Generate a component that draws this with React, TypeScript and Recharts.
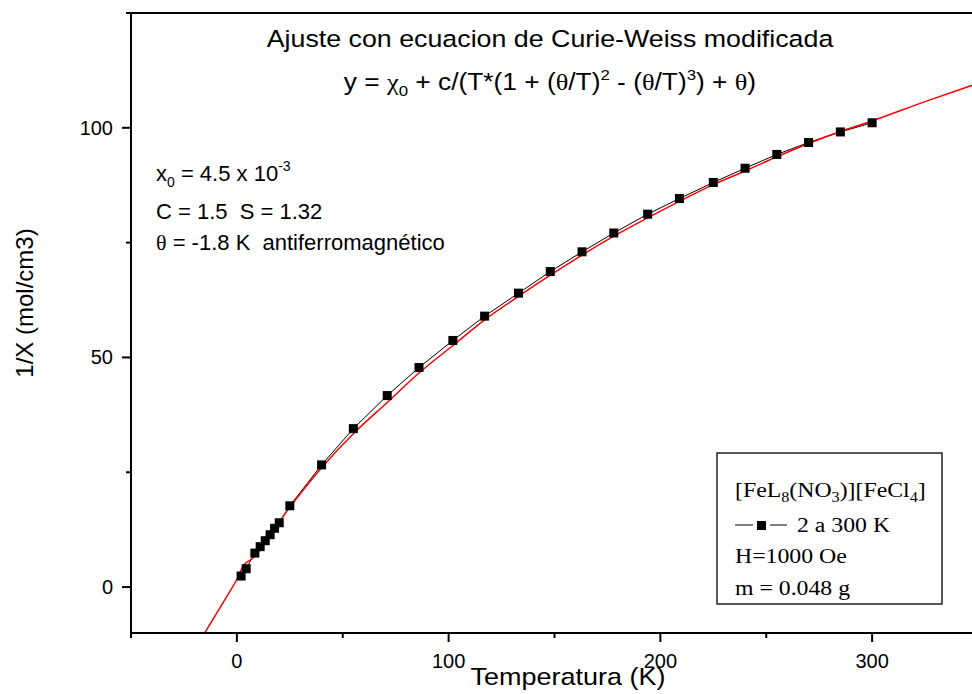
import React from 'react';
import { LineChart, Line, XAxis, YAxis } from 'recharts';

// measured 1/chi vs T (black squares)
const measT = [2, 4.4, 8.5, 11, 13.4, 15.7, 17.8, 20, 25, 40, 55, 71, 86, 102, 117, 133, 148, 163, 178, 194, 209, 225, 240, 255, 270, 285, 300];
const measInv = [2.4, 4.0, 7.4, 8.8, 10.1, 11.4, 12.8, 14.0, 17.7, 26.6, 34.5, 41.7, 47.8, 53.7, 59.0, 64.0, 68.7, 73.0, 77.1, 81.2, 84.6, 88.1, 91.2, 94.2, 96.8, 99.1, 101.1];

// modified Curie-Weiss fit (red)
const fitT = [-16, -5.5, 0, 3, 7, 25, 40, 55, 71, 86, 102, 117, 133, 148, 163, 178, 194, 209, 224, 240, 255, 270, 285, 300, 325, 350];
const fitInv = [-10.6, -2.6, 1.7, 4.6, 6.1, 17.4, 26.0, 33.4, 40.2, 46.6, 52.6, 58.2, 63.3, 67.9, 72.3, 76.4, 80.4, 84.0, 87.4, 90.6, 93.7, 96.6, 99.2, 101.5, 105.7, 109.7];

const xTicks = [-50, 0, 50, 100, 150, 200, 250, 300, 350];
const xLabels = [0, 100, 200, 300];
const yTicks = [0, 25, 50, 75, 100, 125];
const yLabels = [0, 50, 100];

const measData = measT.map((T, i) => ({ T, v: measInv[i] }));
const fitData = fitT.map((T, i) => ({ T, v: fitInv[i] }));

const SANS = "'Liberation Sans', Arial, sans-serif";
const SERIF = "'Liberation Serif', 'Times New Roman', serif";

const BottomTick = (p: any) => {
  const v = p.payload.value;
  const major = v % 100 === 0;
  return (
    <g>
      <line x1={p.x} x2={p.x} y1={p.y} y2={p.y + (major ? 9 : 5)} stroke="#000" strokeWidth={2} />
      {xLabels.includes(v) && (
        <text x={p.x} y={p.y + 35} textAnchor="middle" fontSize={20} fontFamily={SANS} fill="#000">{v}</text>
      )}
    </g>
  );
};

const TopTick = (p: any) => {
  const major = p.payload.value % 100 === 0;
  return <line x1={p.x} x2={p.x} y1={p.y} y2={p.y + (major ? 9 : 5)} stroke="#000" strokeWidth={2} />;
};

const LeftTick = (p: any) => {
  const v = p.payload.value;
  const major = v % 50 === 0;
  return (
    <g>
      <line x1={p.x} x2={p.x - (major ? 9 : 5)} y1={p.y} y2={p.y} stroke="#000" strokeWidth={2} />
      {yLabels.includes(v) && (
        <text x={p.x - 18} y={p.y + 7} textAnchor="end" fontSize={20} fontFamily={SANS} fill="#000">{v}</text>
      )}
    </g>
  );
};

const RightTick = (p: any) => {
  const major = p.payload.value % 50 === 0;
  return <line x1={p.x} x2={p.x - (major ? 9 : 5)} y1={p.y} y2={p.y} stroke="#000" strokeWidth={2} />;
};

const Square = (p: any) => (
  <rect key={p.index} x={p.cx - 4.5} y={p.cy - 4.5} width={9} height={9} fill="#000" />
);

const axisLine = { stroke: '#000', strokeWidth: 2 };

export default function App() {
  return (
    <div style={{ position: 'fixed', left: 0, top: 0, width: 972, height: 694, overflow: 'hidden', background: '#fff' }}>
      <LineChart width={1000} height={694} margin={{ top: 12, right: 21, bottom: 60, left: 130 }}>
        <XAxis xAxisId="b" type="number" dataKey="T" domain={[-50, 350]} ticks={xTicks} interval={0}
          height={1} tickSize={0} tickMargin={0} tickLine={false} axisLine={axisLine} tick={<BottomTick />} allowDataOverflow />
        <XAxis xAxisId="t" orientation="top" type="number" dataKey="T" domain={[-50, 350]} ticks={xTicks} interval={0}
          height={1} tickSize={0} tickMargin={0} tickLine={false} axisLine={axisLine} tick={<TopTick />} />
        <YAxis yAxisId="l" type="number" domain={[-10, 125]} ticks={yTicks} interval={0}
          width={1} tickSize={0} tickMargin={0} tickLine={false} axisLine={axisLine} tick={<LeftTick />} allowDataOverflow />
        <YAxis yAxisId="r" orientation="right" type="number" domain={[-10, 125]} ticks={yTicks} interval={0}
          width={1} tickSize={0} tickMargin={0} tickLine={false} axisLine={axisLine} tick={<RightTick />} />
        <Line data={measData} dataKey="v" xAxisId="b" yAxisId="l" type="linear" stroke="#000" strokeWidth={1}
          dot={Square} activeDot={false} isAnimationActive={false} />
        <Line data={fitData} dataKey="v" xAxisId="b" yAxisId="l" type="monotone" stroke="#ff0000" strokeWidth={1.5}
          dot={false} activeDot={false} isAnimationActive={false} />
      </LineChart>

      <svg width={972} height={694} style={{ position: 'absolute', left: 0, top: 0, pointerEvents: 'none' }} fontFamily={SANS} fill="#000">
        <g transform="translate(550,47) scale(1.14,1)">
          <text textAnchor="middle" fontSize={23.5}>Ajuste con ecuacion de Curie-Weiss modificada</text>
        </g>
        <g transform="translate(550,90) scale(1.12,1)">
          <text textAnchor="middle" fontSize={23.5}>
            {'y = '}<tspan fontFamily={SERIF}>χ</tspan>
            <tspan fontSize={15} dy={6}>0</tspan>
            <tspan dy={-6}>{' + c/(T*(1 + ('}</tspan>
            <tspan fontFamily={SERIF}>θ</tspan>{'/T)'}
            <tspan fontSize={15} dy={-10}>2</tspan>
            <tspan dy={10}>{' - ('}</tspan>
            <tspan fontFamily={SERIF}>θ</tspan>{'/T)'}
            <tspan fontSize={15} dy={-10}>3</tspan>
            <tspan dy={10}>{') + '}</tspan>
            <tspan fontFamily={SERIF}>θ</tspan>{')'}
          </text>
        </g>

        <text x={156} y={181} fontSize={22}>
          {'x'}<tspan fontSize={14} dy={6}>0</tspan>
          <tspan dy={-6}>{' = 4.5 x 10'}</tspan>
          <tspan fontSize={14} dy={-10}>-3</tspan>
        </text>
        <text x={156} y={219} fontSize={22} style={{ whiteSpace: 'pre' }}>{'C = 1.5  S = 1.32'}</text>
        <text x={156} y={250} fontSize={22} style={{ whiteSpace: 'pre' }}>
          <tspan fontFamily={SERIF}>θ</tspan>{' = -1.8 K  antiferromagnético'}
        </text>

        <text transform="translate(33,303) rotate(-90)" textAnchor="middle" fontSize={24}>1/X (mol/cm3)</text>
        <g transform="translate(568,685) scale(1.125,1)">
          <text textAnchor="middle" fontSize={24}>Temperatura (K)</text>
        </g>

        <rect x={717} y={453} width={225} height={151} fill="#fff" stroke="#222" strokeWidth={1.5} />
        <g fontFamily={SERIF}>
          <g transform="translate(735,497) scale(1.16,1)">
            <text fontSize={20.5}>
              {'[FeL'}<tspan fontSize={14} dy={5}>8</tspan>
              <tspan dy={-5}>{'(NO'}</tspan>
              <tspan fontSize={14} dy={5}>3</tspan>
              <tspan dy={-5}>{')][FeCl'}</tspan>
              <tspan fontSize={14} dy={5}>4</tspan>
              <tspan dy={-5}>]</tspan>
            </text>
          </g>
          <line x1={735} x2={753} y1={525} y2={525} stroke="#000" strokeWidth={1} />
          <line x1={770} x2={787} y1={525} y2={525} stroke="#000" strokeWidth={1} />
          <rect x={757} y={521} width={9} height={9} fill="#000" />
          <g transform="translate(797,532) scale(1.16,1)">
            <text fontSize={20.5}>2 a 300 K</text>
          </g>
          <g transform="translate(735,563) scale(1.16,1)">
            <text fontSize={20.5}>H=1000 Oe</text>
          </g>
          <g transform="translate(735,595) scale(1.16,1)">
            <text fontSize={20.5}>m = 0.048 g</text>
          </g>
        </g>
      </svg>
    </div>
  );
}
